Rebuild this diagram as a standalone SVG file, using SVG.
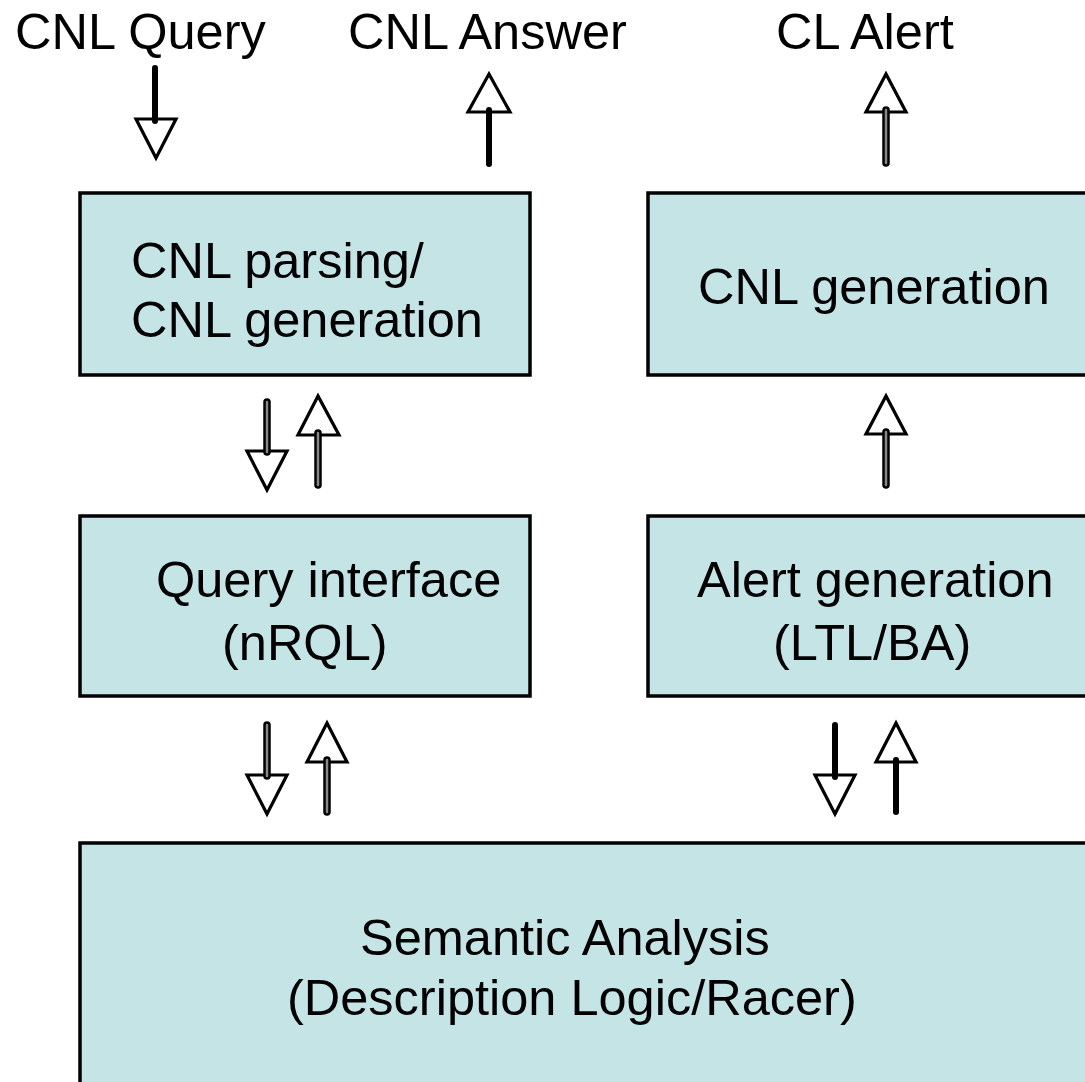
<svg xmlns="http://www.w3.org/2000/svg" width="1085" height="1082" viewBox="0 0 1085 1082">
<style>
.box{fill:#c4e4e6;stroke:#000;stroke-width:3.5}
.t{font-family:"Liberation Sans",Arial,sans-serif;font-size:50.5px;fill:#000}
.head{fill:#fff;stroke:#000;stroke-width:3.2;stroke-linejoin:miter}
.solid{stroke:#000;stroke-width:6;stroke-linecap:round}
.dblo{stroke:#000;stroke-width:7.5;stroke-linecap:round}
.dbli{stroke:#888;stroke-width:2.5;stroke-linecap:round}
</style>
<rect width="1085" height="1082" fill="#fff"/>
<text class="t" x="15" y="49">CNL Query</text>
<text class="t" x="348" y="49">CNL Answer</text>
<text class="t" x="776" y="49">CL Alert</text>
<g id="n1"><rect class="box" x="80" y="193" width="450" height="182"/>
<text class="t" x="131" y="278">CNL parsing/</text>
<text class="t" x="131" y="337">CNL generation</text></g>
<g id="n2"><rect class="box" x="648" y="193" width="440" height="182"/>
<text class="t" x="698" y="304">CNL generation</text></g>
<g id="n3"><rect class="box" x="80" y="516" width="450" height="180"/>
<text class="t" x="156" y="597">Query interface</text>
<text class="t" x="222" y="660">(nRQL)</text></g>
<g id="n4"><rect class="box" x="648" y="516" width="440" height="180"/>
<text class="t" x="697" y="597">Alert generation</text>
<text class="t" x="773" y="660">(LTL/BA)</text></g>
<g id="n5"><rect class="box" x="80" y="843" width="1008" height="245"/>
<text class="t" x="360" y="955">Semantic Analysis</text>
<text class="t" x="287" y="1015">(Description Logic/Racer)</text></g>
<g id="connectors">
<polygon class="head" points="136,119 176,119 156,158"/>
<line class="solid" x1="155" y1="68" x2="155" y2="121"/>
<polygon class="head" points="468,112 510,112 489,74"/>
<line class="solid" x1="489" y1="110" x2="489" y2="164"/>
<polygon class="head" points="866,112 906,112 886,74"/>
<line class="dblo" x1="886" y1="110" x2="886" y2="163"/>
<line class="dbli" x1="886" y1="110" x2="886" y2="163"/>
<polygon class="head" points="247,451 287,451 267,490"/>
<line class="dblo" x1="267" y1="402" x2="267" y2="452"/>
<line class="dbli" x1="267" y1="402" x2="267" y2="452"/>
<polygon class="head" points="298,435 339,435 318,396"/>
<line class="dblo" x1="318" y1="433" x2="318" y2="485"/>
<line class="dbli" x1="318" y1="433" x2="318" y2="485"/>
<polygon class="head" points="866,434 906,434 886,396"/>
<line class="dblo" x1="886" y1="432" x2="886" y2="485"/>
<line class="dbli" x1="886" y1="432" x2="886" y2="485"/>
<polygon class="head" points="247,775 287,775 267,814"/>
<line class="dblo" x1="267" y1="725" x2="267" y2="776"/>
<line class="dbli" x1="267" y1="725" x2="267" y2="776"/>
<polygon class="head" points="307,762 347,762 327,723"/>
<line class="dblo" x1="327" y1="760" x2="327" y2="812"/>
<line class="dbli" x1="327" y1="760" x2="327" y2="812"/>
<polygon class="head" points="815,775 855,775 835,814"/>
<line class="solid" x1="835" y1="725" x2="835" y2="777"/>
<polygon class="head" points="876,762 916,762 896,723"/>
<line class="solid" x1="896" y1="760" x2="896" y2="812"/>
</g>
</svg>
